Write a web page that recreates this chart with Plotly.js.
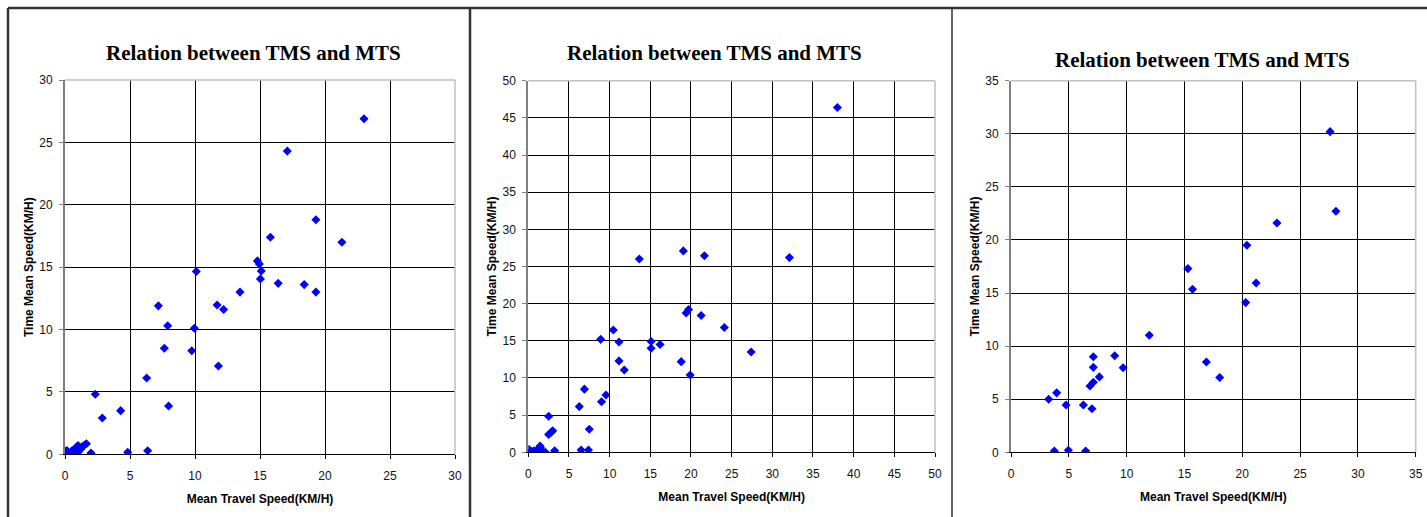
<!DOCTYPE html>
<html>
<head>
<meta charset="utf-8">
<script src="https://cdn.plot.ly/plotly-3.0.1.min.js"></script>
<style>
html,body{margin:0;padding:0;background:#fff;}
#chart{width:1427px;height:517px;}
</style>
</head>
<body>
<div id="chart"></div>
<script>
// ---- Data ----
const chartTitle = "Relation between TMS and MTS";
const xAxisTitle = "Mean Travel Speed(KM/H)";
const yAxisTitle = "Time Mean Speed(KM/H)";

// Panel 1
const mts1 = [0.05,0.15,0.3,0.4,0.55,0.7,0.85,1.0,1.0,1.2,1.3,1.5,1.65,2.0,
  2.33,2.87,4.28,4.82,6.28,6.36,7.18,7.64,7.9,7.97,9.75,9.95,10.1,11.7,11.8,12.2,13.46,
  14.8,14.95,15.1,15.03,15.8,16.4,17.1,18.4,19.3,19.3,21.3,23.0];
const tms1 = [0.25,0.3,0.0,0.1,0.3,0.2,0.55,0.15,0.7,0.4,0.6,0.75,0.85,0.1,
  4.81,2.91,3.5,0.16,6.12,0.29,11.9,8.5,10.3,3.87,8.3,10.1,14.65,11.97,7.08,11.6,13.0,
  15.5,15.26,14.7,14.06,17.4,13.7,24.3,13.6,18.8,13.0,17.0,26.9];

// Panel 2
const mts2 = [0.05,0.2,0.45,0.7,1.07,1.2,1.5,1.68,1.45,2.1,0.3,
  2.5,2.5,2.8,3.0,3.24,6.27,6.5,6.9,7.4,7.5,8.9,9.0,9.55,10.45,11.15,11.15,11.8,13.65,
  15.1,15.1,16.2,18.8,19.06,19.4,19.7,19.9,21.25,21.65,24.1,27.4,32.1,38.0];
const tms2 = [0.4,0.0,0.08,0.2,0.3,0.0,0.62,0.17,0.85,0.0,0.15,
  4.85,2.4,2.7,2.9,0.2,6.15,0.3,8.5,0.3,3.1,15.2,6.8,7.7,16.45,14.84,12.3,11.07,26.0,
  14.9,14.0,14.5,12.2,27.1,18.75,19.2,10.4,18.4,26.45,16.8,13.5,26.2,46.4];

// Panel 3
const mts3 = [3.26,3.75,3.95,4.76,4.96,6.26,6.46,6.83,7.0,7.12,7.12,7.12,7.64,8.97,9.7,
  11.96,15.3,15.7,16.9,18.05,20.3,20.4,21.2,23.0,27.6,28.1];
const tms3 = [5.0,0.12,5.6,4.45,0.2,4.45,0.12,6.24,4.1,6.6,8.0,9.0,7.1,9.1,7.96,
  11.03,17.3,15.36,8.5,7.05,14.1,19.5,15.95,21.6,30.2,22.7];

const xRanges = [[0,30],[0,50],[0,35]];
const yRanges = [[0,30],[0,50],[0,35]];
const dticks = [5,5,5];

// ---- Layout geometry (pixels) ----
const W = 1427, H = 517;
const plots = [
  {l:65, r:455, t:80, b:454.3},
  {l:528.3, r:935, t:80.7, b:452.3},
  {l:1011, r:1415.7, t:80.7, b:452.3}
];
const titleCenters = [[254,53],[714,53],[1202.5,60]];
const fx = p => p / W;
const fy = p => 1 - p / H;

const traces = [[mts1,tms1],[mts2,tms2],[mts3,tms3]].map((d,i)=>({
  type:'scatter', mode:'markers', x:d[0], y:d[1],
  xaxis: i===0?'x':'x'+(i+1), yaxis: i===0?'y':'y'+(i+1),
  marker:{symbol:'diamond', size:7, color:'#0000FF', line:{width:0}},
  showlegend:false, hoverinfo:'x+y'
}));

const layout = {
  width:W, height:H,
  margin:{l:0,r:0,t:0,b:0},
  paper_bgcolor:'#fff', plot_bgcolor:'#fff',
  font:{family:'"Liberation Sans", Arial, sans-serif', size:12, color:'#111'},
  showlegend:false,
  annotations:[], shapes:[]
};

plots.forEach((p,i)=>{
  const xs = i===0?'xaxis':'xaxis'+(i+1);
  const ys = i===0?'yaxis':'yaxis'+(i+1);
  const xa = i===0?'x':'x'+(i+1);
  const ya = i===0?'y':'y'+(i+1);
  layout[xs] = {
    domain:[fx(p.l), fx(p.r)], anchor:ya, range:xRanges[i], dtick:dticks[i], tick0:0,
    showgrid:true, gridcolor:'#000', gridwidth:1, zeroline:false,
    showline:true, linecolor:'#000', linewidth:1,
    ticks:'outside', ticklen:4, tickcolor:'#000', ticklabelstandoff:6,
    tickfont:{size:12, color:'#111'},
    title:{text:xAxisTitle, font:{size:12, color:'#000', weight:'bold'}, standoff:12},
    fixedrange:true
  };
  layout[ys] = {
    domain:[fy(p.b), fy(p.t)], anchor:xa, range:yRanges[i], dtick:dticks[i], tick0:0,
    showgrid:true, gridcolor:'#000', gridwidth:1, zeroline:false,
    showline:true, linecolor:'#808080', linewidth:2,
    ticks:'outside', ticklen:4, tickcolor:'#808080', ticklabelstandoff:4,
    tickfont:{size:12, color:'#111'},
    title:{text:yAxisTitle, font:{size:12, color:'#000', weight:'bold'}, standoff:3},
    fixedrange:true
  };
  // top and right plot-area borders (light grey)
  layout.shapes.push({type:'line', xref:'paper', yref:'paper', x0:fx(p.l), x1:fx(p.r), y0:fy(p.t), y1:fy(p.t), line:{color:'#c0c0c0', width:1.5}, layer:'above'});
  layout.shapes.push({type:'line', xref:'paper', yref:'paper', x0:fx(p.r), x1:fx(p.r), y0:fy(p.t), y1:fy(p.b), line:{color:'#c0c0c0', width:1.5}, layer:'above'});
  // chart title
  layout.annotations.push({
    text:'<b>'+chartTitle+'</b>', xref:'paper', yref:'paper',
    x:fx(titleCenters[i][0]), y:fy(titleCenters[i][1]), xanchor:'center', yanchor:'middle',
    showarrow:false, font:{family:'"Liberation Serif", "Times New Roman", serif', size:21, color:'#000'}
  });
});

// outer frames
const frame = {color:'#333', width:2.5};
layout.shapes.push({type:'line', xref:'paper', yref:'paper', x0:fx(8), x1:1, y0:fy(8), y1:fy(8), line:frame});
layout.shapes.push({type:'line', xref:'paper', yref:'paper', x0:fx(8), x1:fx(8), y0:fy(8), y1:0, line:frame});
layout.shapes.push({type:'line', xref:'paper', yref:'paper', x0:fx(470), x1:fx(470), y0:fy(8), y1:0, line:frame});
layout.shapes.push({type:'line', xref:'paper', yref:'paper', x0:fx(952), x1:fx(952), y0:fy(8), y1:0, line:{color:'#333', width:1.5}});

Plotly.newPlot('chart', traces, layout, {displayModeBar:false, staticPlot:true});
</script>
</body>
</html>
